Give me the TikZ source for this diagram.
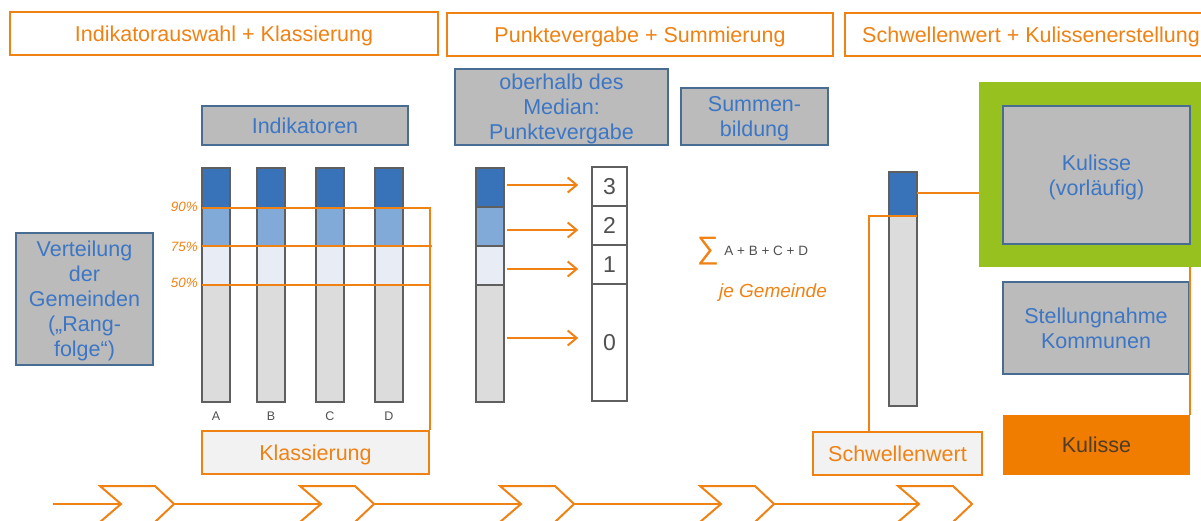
\documentclass[tikz,border=0pt]{standalone}
\usepackage{fontspec}
\setmainfont{Liberation Sans}
\usepackage{tikz}
\usetikzlibrary{arrows.meta, positioning}
\definecolor{orng}{RGB}{240, 130, 20}
\definecolor{kul}{RGB}{240, 124, 0}
\definecolor{lime}{RGB}{150, 193, 31}
\definecolor{grau}{RGB}{187, 187, 187}
\definecolor{rand}{RGB}{72, 108, 146}
\definecolor{schrift}{RGB}{60, 118, 196}
\definecolor{braun}{RGB}{80, 60, 40}
\definecolor{dunkel}{RGB}{80, 80, 80}
\definecolor{barline}{RGB}{95, 95, 95}
\definecolor{hell}{RGB}{242, 242, 242}
\definecolor{q4}{RGB}{56, 114, 184}
\definecolor{q3}{RGB}{130, 170, 216}
\definecolor{q2}{RGB}{232, 236, 244}
\definecolor{q1}{RGB}{220, 220, 220}

\begin{document}
\begin{tikzpicture}[x=1pt, y=-1pt, font=\fontsize{21.5}{25}\selectfont,
  head/.style={draw=orng, line width=1.5pt, fill=white, text=orng, minimum height=43pt, inner sep=0pt, text depth=0pt},
  tag/.style={draw=rand, line width=1.2pt, fill=grau, text=schrift, align=center, inner sep=0pt, text depth=0pt},
  hint/.style={draw=orng, line width=1.5pt, fill=hell, text=orng, minimum height=43pt, inner sep=0pt, text depth=0pt},
  link/.style={orng, line width=2pt},
  seg/.style={draw=barline, line width=1.5pt}]

  \useasboundingbox (0, 0) rectangle (1201, 520);
  \clip (0, 0) rectangle (1201, 520);

  % Phasen
  \node[head, minimum width=428pt] (h1) at (224, 33.5) {Indikatorauswahl + Klassierung};
  \node[head, minimum width=386pt] (h2) at (640, 34.5) {Punktevergabe + Summierung};
  \node[head, minimum width=372pt] (h3) at (1031, 34.5) {Schwellenwert + Kulissenerstellung};

  \node[tag, minimum width=206pt, minimum height=39pt] (ind) at (305, 125.5) {Indikatoren};
  \node[tag, minimum width=213pt, minimum height=76pt] (med) at (561.5, 107) {oberhalb des\\Median:\\Punktevergabe};
  \node[tag, minimum width=147pt, minimum height=57pt] (sum) at (754.5, 116.5) {Summen-\\bildung};
  \node[tag, minimum width=137pt, minimum height=132pt] (vert) at (84.5, 299) {Verteilung\\der\\Gemeinden\\(„Rang-\\folge“)};

  \node[fill=lime, minimum width=236pt, minimum height=185pt, inner sep=0pt] (frame) at (1097, 174.5) {};
  \node[tag, minimum width=187pt, minimum height=138pt] (kv) at (1096.5, 175) {Kulisse\\(vorläufig)};
  \node[tag, minimum width=186pt, minimum height=92pt] (stell) at (1096, 328) {Stellungnahme\\Kommunen};
  \node[fill=kul, text=braun, minimum width=187pt, minimum height=60pt, inner sep=0pt] (kul) at (1096.5, 445) {Kulisse};

  \node[hint, minimum width=227pt] (klass) at (315.5, 452.5) {Klassierung};
  \node[hint, minimum width=169pt] (schw) at (897.5, 453.5) {Schwellenwert};

  % Indikatoren A-D
  \foreach \x/\n in {202/A, 257/B, 316/C, 375/D} {
    \foreach \a/\b/\c in {168/208/q4, 208/246/q3, 246/285/q2, 285/402/q1}
      \filldraw[seg, fill=\c] (\x, \a) rectangle (\x+28, \b);
    \node[text=dunkel, font=\fontsize{12.5}{14}\selectfont] (lab\n) at (\x+14, 416) {\n};
  }

  \foreach \p/\y in {90/207, 75/247, 50/283}
    \node[text=orng, font=\fontsize{13.5}{15}\selectfont\itshape, anchor=east, inner sep=0pt] (pc\p) at (198, \y) {\p\%};

  \coordinate (c90) at (202, 208);
  \coordinate (c75) at (202, 246);
  \coordinate (c50) at (202, 285);
  \draw[link] (c90) -- (c90 -| klass.east) -- (klass.north east);
  \draw[link] (c75) -- ([xshift=2pt]c75 -| klass.east);
  \draw[link] (c50) -- (c50 -| klass.east);

  % Punktevergabe
  \foreach \a/\b/\c in {168/207/q4, 207/246/q3, 246/285/q2, 285/402/q1}
    \filldraw[seg, fill=\c] (476, \a) rectangle (504, \b);

  \foreach \n/\a/\b in {3/167/206, 2/206/245, 1/245/284, 0/284/401}
    \node[seg, fill=white, text=dunkel, font=\fontsize{23}{25}\selectfont,
      minimum width=35pt, minimum height={(\b-\a)*1pt}, inner sep=0pt] (p\n) at (609.5, {(\a+\b)/2}) {\n};

  \foreach \n/\y in {3/185, 2/230, 1/269, 0/338} {
    \coordinate (s\n) at (507, \y);
    \draw[link, shorten >=13pt, -{Straight Barb[length=9pt, width=15pt]}] (s\n) -- (s\n -| p\n.west);
  }

  \node[text=orng, font=\fontsize{31}{33}\selectfont, inner sep=0pt] (sig) at (708, 251) {∑};
  \node[text=dunkel, font=\fontsize{13.5}{15}\selectfont, inner sep=0pt, right=5pt of sig] (abcd) {A + B + C + D};
  \node[text=orng, font=\fontsize{19}{21}\selectfont\itshape] (jg) at (773, 293) {je Gemeinde};

  % Schwellenwert
  \filldraw[seg, fill=q4] (889, 172) rectangle (917, 216);
  \filldraw[seg, fill=q1] (889, 216) rectangle (917, 406);

  \coordinate (rb) at (917, 193);
  \coordinate (thr) at (917, 216);
  \coordinate (bend) at (869, 216);
  \draw[link, line width=1.5pt] (rb) -- (rb -| frame.west);
  \draw[link] (thr) -- (bend) -- (bend |- schw.north);
  \draw[link] (kul.north east) -- (kul.north east |- frame.south);

  % Ablauf
  \coordinate (start) at (53, 504);
  \foreach \x [count=\i] in {100, 300, 500, 700, 898} {
    \draw[link] (\x, 486) -- ++(55, 0) -- ++(19, 18) -- ++(-19, 18) -- ++(-55, 0) -- ++(21, -18) -- cycle;
    \coordinate (notch\i) at (\x+21, 504);
    \coordinate (tip\i) at (\x+74, 504);
  }
  \draw[link] (start) -- (notch1);
  \foreach \i [evaluate=\i as \j using int(\i+1)] in {1, ..., 4}
    \draw[link] (tip\i) -- (notch\j);

\end{tikzpicture}
\end{document}
